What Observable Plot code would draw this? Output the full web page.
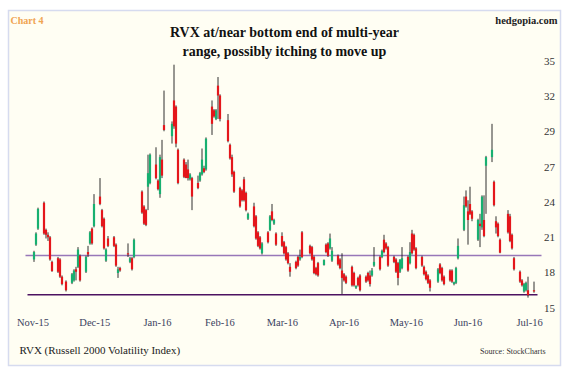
<!DOCTYPE html>
<html><head><meta charset="utf-8">
<script src="https://cdn.jsdelivr.net/npm/d3@7"></script>
<script src="https://cdn.jsdelivr.net/npm/@observablehq/plot@0.6"></script>
<style>html,body{margin:0;padding:0;background:#fff}svg{display:block}</style>
</head><body><div id="chart"></div>
<script>
// ---- data ----
const startDate = "2015-11-11";
const endDate = "2016-07-18";
const holidays = ["2015-11-26","2015-12-25","2016-01-01","2016-01-18","2016-02-15","2016-03-25","2016-05-30","2016-07-04"];

// one row per trading week
const open = [
  18.9,20.1,21.4,
  23.5,21.3,20.9,20.7,18.7,
  19.0,18.9,17.5,17.1,
  17.0,17.2,18.1,18.3,19.2,
  17.9,19.5,20.2,21.4,21.6,
  24.0,22.9,22.2,18.8,20.6,
  20.7,20.1,17.8,18.2,
  19.4,18.7,19.0,19.1,
  24.4,23.2,22.9,24.8,25.1,
  26.6,25.3,24.2,27.0,29.8,
  28.9,31.8,31.3,27.8,
  27.0,26.6,26.2,25.4,25.5,
  25.1,25.3,25.8,26.3,26.2,
  31.3,31.0,30.3,33.0,32.2,
  30.2,28.2,27.2,26.0,
  24.7,24.5,25.4,24.3,22.2,
  23.2,22.4,21.1,20.7,19.4,
  21.1,21.3,22.8,21.8,21.0,
  20.8,20.3,19.9,19.4,18.3,
  18.7,19.1,18.9,21.1,
  20.0,19.9,19.1,18.2,18.6,
  18.45,20.1,20.2,19.8,18.8,
  19.2,18.9,18.0,17.7,17.5,
  18.3,17.8,16.6,17.4,17.6,
  17.5,17.8,17.6,17.6,18.4,
  19.1,19.1,20.5,20.2,19.9,
  19.1,18.9,18.6,17.9,18.2,
  19.1,18.6,21.0,20.9,19.8,
  19.1,18.3,17.9,17.6,17.2,
  17.1,18.5,18.2,17.5,
  18.0,18.0,16.9,17.0,19.0,
  21.3,24.0,22.8,23.4,22.8,
  20.5,21.8,21.5,22.1,26.5,
  27.2,25.2,22.0,21.8,20.5,
  22.6,22.4,20.9,19.0,
  17.9,17.2,16.3,16.4,16.4,
  16.4
];
const high = [
  19.6,21.1,23.1,
  23.6,21.4,21.1,20.8,18.8,
  19.1,19.0,17.6,17.2,
  17.8,18.1,18.3,19.9,19.3,
  19.2,20.0,21.2,21.5,24.2,
  25.5,23.0,22.3,19.8,20.8,
  20.8,20.2,18.3,18.3,
  20.2,19.1,19.1,20.6,
  24.5,23.3,23.0,27.4,27.5,
  28.0,25.4,27.4,28.6,32.6,
  30.1,34.7,31.4,27.9,
  27.1,26.8,27.0,25.9,25.6,
  25.7,26.0,27.9,26.5,28.8,
  31.8,31.1,31.1,33.7,32.3,
  30.7,28.3,27.4,26.1,
  24.8,24.6,25.6,24.4,22.7,
  23.5,22.5,21.2,20.8,20.3,
  21.2,22.5,23.4,22.2,21.1,
  21.1,20.4,20.0,19.5,18.6,
  18.8,19.2,19.7,21.2,
  20.1,20.0,19.2,18.3,18.7,
  18.9,20.2,20.3,21.0,19.9,
  19.3,19.0,19.4,17.8,17.6,
  18.4,17.9,16.8,17.5,17.7,
  17.6,17.9,18.0,18.2,19.9,
  19.2,19.7,20.9,20.3,20.0,
  19.2,19.0,18.7,18.9,19.9,
  19.2,20.3,21.3,21.0,19.9,
  19.2,18.4,18.0,17.7,17.3,
  18.2,18.6,18.3,17.6,
  18.1,18.1,17.1,18.3,20.6,
  24.0,24.5,23.7,24.8,22.9,
  22.2,22.6,24.1,24.1,27.3,
  29.9,25.3,22.4,21.9,20.6,
  22.9,22.6,21.0,19.1,
  18.0,17.3,17.0,17.1,17.5,
  17.1
];
const low = [
  18.7,20.0,21.3,
  20.9,20.6,20.4,18.8,17.9,
  17.8,17.4,16.8,16.3,
  16.9,17.1,17.2,18.2,17.1,
  17.8,19.1,20.1,20.1,21.5,
  23.3,21.5,19.7,18.7,19.9,
  19.9,18.3,17.4,17.9,
  19.1,18.6,18.0,19.0,
  22.6,21.7,21.6,22.9,25.0,
  25.4,24.5,23.9,25.5,29.3,
  28.3,29.5,28.0,25.0,
  25.5,25.5,25.3,25.3,22.9,
  24.6,25.2,25.7,25.9,26.1,
  29.0,30.4,30.2,30.3,30.1,
  28.4,27.0,25.6,24.3,
  23.1,23.6,23.6,22.8,22.1,
  21.5,20.5,19.9,19.7,19.3,
  20.2,21.2,22.0,21.7,20.0,
  19.9,19.3,18.8,18.5,17.5,
  18.1,18.3,18.8,19.0,
  19.3,18.8,17.7,17.6,17.5,
  18.4,19.4,19.1,19.7,18.7,
  18.4,18.1,16.1,17.1,16.9,
  16.7,16.7,16.5,16.7,16.3,
  17.0,17.1,16.7,17.5,18.3,
  18.0,19.0,19.4,19.7,18.3,
  18.6,17.8,16.8,17.8,18.1,
  17.9,18.5,19.3,19.6,18.1,
  18.3,17.6,17.2,16.9,16.3,
  17.0,17.7,17.1,16.8,
  17.1,17.0,16.8,16.9,18.9,
  21.2,23.1,20.1,22.5,22.0,
  20.4,19.9,21.3,20.7,22.6,
  26.8,23.2,21.0,20.7,19.4,
  21.0,20.3,19.7,18.0,
  17.0,16.7,16.2,16.3,15.8,
  16.2
];
const close = [
  19.5,21.0,23.0,
  21.0,20.9,20.7,18.9,17.95,
  17.9,17.5,16.9,16.4,
  17.7,18.0,17.9,19.7,17.2,
  19.1,19.3,21.1,20.2,23.4,
  23.4,21.6,19.8,19.7,20.0,
  20.0,18.4,18.1,18.0,
  19.3,19.0,18.1,20.5,
  22.7,21.8,21.7,25.9,27.4,
  25.5,24.6,27.2,25.7,29.4,
  29.9,29.7,28.3,25.1,
  25.6,25.5,25.5,25.8,24.0,
  24.7,25.9,27.0,26.0,28.7,
  29.9,30.5,31.0,32.2,30.3,
  28.5,27.1,25.8,24.4,
  23.2,23.7,23.7,22.9,22.6,
  21.6,20.6,20.0,19.8,20.2,
  20.3,22.4,22.1,22.1,20.1,
  20.0,19.4,18.9,18.6,17.9,
  18.2,18.4,19.1,19.1,
  19.4,18.9,17.8,17.7,17.6,
  18.85,19.5,19.2,20.6,19.6,
  18.5,18.2,17.4,17.2,17.0,
  16.8,16.8,16.75,16.8,16.4,
  17.1,17.2,16.9,18.0,18.7,
  18.1,19.6,19.5,19.8,18.4,
  18.7,17.9,17.4,18.9,19.0,
  18.0,19.5,19.4,19.7,18.2,
  18.4,17.7,17.3,17.0,16.6,
  18.1,17.8,17.2,16.9,
  17.2,17.1,17.05,18.2,20.0,
  23.3,23.2,22.1,22.6,22.2,
  22.1,21.6,24.0,20.8,27.2,
  27.8,23.3,21.5,20.8,19.45,
  21.1,20.4,19.8,18.1,
  17.1,16.8,16.9,17.0,16.0,
  16.3
];

// horizontal range lines
const levelValues = [19.26, 16.07];
const levelStart = ["2015-11-07", "2015-11-08"];
const levelEnd = ["2016-07-22", "2016-07-20"];

// axis labels
const monthLabels = ["Nov-15","Dec-15","Jan-16","Feb-16","Mar-16","Apr-16","May-16","Jun-16","Jul-16"];
const monthLabelDays = [-0.5, 30.4, 61.7, 92.9, 124.2, 155, 186.2, 217, 247.8]; // days after startDate
const yTicks = [15, 17.86, 20.71, 23.57, 26.43, 29.29, 32.14, 35];
const yTickLabels = ["15","18","21","24","27","29","32","35"];

const titleLines = ["RVX at/near bottom end of multi-year", "range, possibly itching to move up"];

// ---- build ----
const parse = d3.utcParse("%Y-%m-%d");
const fmt = d3.utcFormat("%Y-%m-%d");
const hol = new Set(holidays);
const t0 = parse(startDate), t1 = parse(endDate);
const dates = d3.utcDay.range(t0, d3.utcDay.offset(t1, 1))
  .filter(d => d.getUTCDay() % 6 !== 0 && !hol.has(fmt(d)));
const candles = dates.map((date, i) => ({date, open: open[i], high: high[i], low: low[i], close: close[i]}))
  .filter(d => d.open != null);
const up = candles.filter(d => d.close >= d.open);
const down = candles.filter(d => d.close < d.open);
const levels = levelValues.map((v, i) => ({y: v, x1: parse(levelStart[i]), x2: parse(levelEnd[i])}));
const months = monthLabels.map((label, i) => ({label, date: new Date(+t0 + monthLabelDays[i] * 864e5)}));
const yt = yTicks.map((v, i) => ({v, label: yTickLabels[i]}));

const serif = "'Liberation Serif', 'Times New Roman', serif";
const chart = Plot.plot({
  width: 569, height: 370,
  marginLeft: 8, marginRight: 9, marginTop: 10, marginBottom: 5,
  style: {fontFamily: serif, background: "#ffffff"},
  x: {type: "utc", domain: [t0, t1], range: [33.5, 533.5], axis: null},
  y: {domain: [15, 35], range: [307.5, 61], axis: null},
  marks: [
    Plot.frame({fill: "#fffef3", stroke: "#d6dbef", strokeWidth: 1.5}),
    Plot.ruleY(levels.slice(0, 1), {y: "y", x1: "x1", x2: "x2", stroke: "#9877b8", strokeWidth: 1.6}),
    Plot.ruleY(levels.slice(1), {y: "y", x1: "x1", x2: "x2", stroke: "#4c1261", strokeWidth: 1.6}),
    Plot.ruleX(candles, {x: "date", y1: "low", y2: "high", stroke: "#1a1a1a", strokeWidth: 0.9}),
    Plot.ruleX(up, {x: "date", y1: "open", y2: "close", stroke: "#17b070", strokeWidth: 2.2}),
    Plot.ruleX(down, {x: "date", y1: "open", y2: "close", stroke: "#e4161b", strokeWidth: 2.2}),
    // y labels on the right
    Plot.text(yt, {y: "v", text: "label", frameAnchor: "right", dx: -11, textAnchor: "middle", fontSize: 11, fill: "#333"}),
    // x labels
    Plot.text(months, {x: "date", text: "label", frameAnchor: "bottom", dy: -40, fontSize: 10.5, fill: "#3b3f60"}),
    // titles & notes
    Plot.text([titleLines[0]], {frameAnchor: "top", dy: 17, fontSize: 14, fontWeight: "bold", fill: "#111"}),
    Plot.text([titleLines[1]], {frameAnchor: "top", dy: 36, fontSize: 14, fontWeight: "bold", fill: "#111"}),
    Plot.text(["Chart 4"], {frameAnchor: "top-left", dx: 2, dy: 6, fontSize: 10, fontWeight: "bold", fill: "#f0a452", textAnchor: "start"}),
    Plot.text(["hedgopia.com"], {frameAnchor: "top-right", dx: -3, dy: 6, fontSize: 10.5, fontWeight: "bold", fill: "#222", textAnchor: "end"}),
    Plot.text(["RVX (Russell 2000 Volatility Index)"], {frameAnchor: "bottom-left", dx: 11, dy: -12, fontSize: 11, fill: "#222", textAnchor: "start"}),
    Plot.text(["Source: StockCharts"], {frameAnchor: "bottom-right", dx: -15, dy: -12, fontSize: 8, fill: "#333", textAnchor: "end"})
  ]
});
document.getElementById("chart").append(chart);
</script>
</body></html>
